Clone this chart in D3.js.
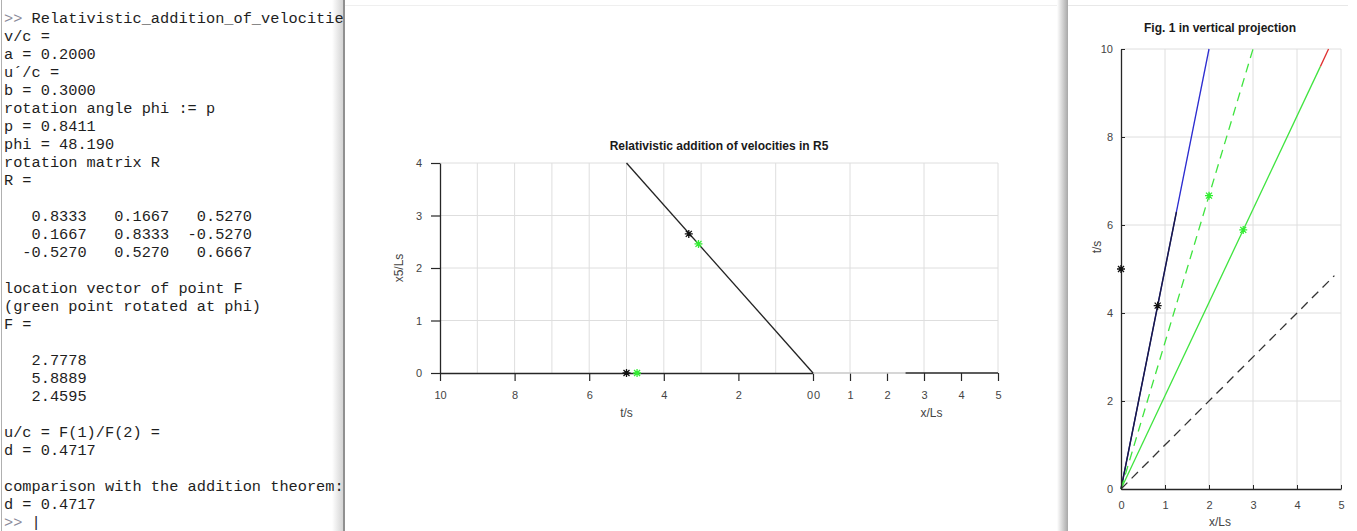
<!DOCTYPE html>
<html>
<head>
<meta charset="utf-8">
<script src="https://cdn.jsdelivr.net/npm/d3@7"></script>
<style>
  body { margin: 0; background: #fff; }
  svg { display: block; }
</style>
</head>
<body>
<svg id="chart" width="1357" height="531"></svg>
<script>
// console output shown on the left
const consoleLines = [
  ">> Relativistic_addition_of_velocitie",
  "v/c =",
  "a = 0.2000",
  "u\u00b4/c =",
  "b = 0.3000",
  "rotation angle phi := p",
  "p = 0.8411",
  "phi = 48.190",
  "rotation matrix R",
  "R =",
  "",
  "   0.8333   0.1667   0.5270",
  "   0.1667   0.8333  -0.5270",
  "  -0.5270   0.5270   0.6667",
  "",
  "location vector of point F",
  "(green point rotated at phi)",
  "F =",
  "",
  "   2.7778",
  "   5.8889",
  "   2.4595",
  "",
  "u/c = F(1)/F(2) =",
  "d = 0.4717",
  "",
  "comparison with the addition theorem:",
  "d = 0.4717",
  ">> |"
];

// middle plot: Relativistic addition of velocities in R5
const tTicks = [10, 8, 6, 4, 2, 0];
const xTicks = [0, 1, 2, 3, 4, 5];
const r5Ticks = [0, 1, 2, 3, 4];
const tGrid = [9, 8, 7, 6, 5, 4, 3, 1];
const xGrid = [1, 3, 5];
const r5Line = [{ t: 5, y: 4 }, { t: 0, y: 0 }];
const r5BlackStars = [{ t: 5, y: 0 }, { t: 3.33, y: 2.65 }];
const r5GreenStars = [{ t: 4.717, y: 0 }, { t: 3.07, y: 2.4595 }];

// right plot: Fig. 1 in vertical projection
const vTicksX = [0, 1, 2, 3, 4, 5];
const vTicksY = [0, 2, 4, 6, 8, 10];
const blueLine = [{ x: 0, t: 0 }, { x: 2, t: 10 }];
const blackLine = [{ x: 0, t: 0 }, { x: 1.26, t: 6.3 }];
const greenDashed = [{ x: 0, t: 0 }, { x: 3, t: 10 }];
const redLine = [{ x: 4.53, t: 9.6 }, { x: 4.717, t: 10 }];
const greenLine = [{ x: 0, t: 0 }, { x: 4.53, t: 9.6 }];
const lightCone = [{ x: 0, t: 0 }, { x: 4.85, t: 4.85 }];
const vBlackStars = [{ x: 0, t: 5 }, { x: 0.8333, t: 4.1667 }];
const vGreenStars = [{ x: 2, t: 6.6667 }, { x: 2.7778, t: 5.8889 }];

const svg = d3.select("#chart");
const sans = "Liberation Sans, Arial, Helvetica, sans-serif";
const starPath = "M-4,0H4M0,-4V4M-3,-3L3,3M-3,3L3,-3";
const intFmt = d3.format("d");

// ---------- panels ----------
const defs = svg.append("defs");
const g1 = defs.append("linearGradient").attr("id", "edgeL");
g1.append("stop").attr("offset", "0").attr("stop-color", "#fff");
g1.append("stop").attr("offset", "1").attr("stop-color", "#d4d4d4");
const g2 = defs.append("linearGradient").attr("id", "edgeR");
g2.append("stop").attr("offset", "0").attr("stop-color", "#fff");
g2.append("stop").attr("offset", "1").attr("stop-color", "#a8a8a8");

svg.append("line").attr("x1", 1.5).attr("x2", 1.5).attr("y1", 0).attr("y2", 531)
  .attr("stroke", "#b0b0b0");
svg.append("rect").attr("x", 332).attr("y", 0).attr("width", 11).attr("height", 531)
  .attr("fill", "url(#edgeL)");
svg.append("line").attr("x1", 344).attr("x2", 344).attr("y1", 0).attr("y2", 531)
  .attr("stroke", "#909090").attr("stroke-width", 2);
svg.append("line").attr("x1", 345).attr("x2", 1060).attr("y1", 5.5).attr("y2", 5.5)
  .attr("stroke", "#efefef");
svg.append("rect").attr("x", 1057).attr("y", 0).attr("width", 11).attr("height", 531)
  .attr("fill", "url(#edgeR)");
svg.append("line").attr("x1", 1068).attr("x2", 1348).attr("y1", 5.5).attr("y2", 5.5)
  .attr("stroke", "#e8e8e8");

// ---------- console text ----------
const con = svg.append("g")
  .attr("font-family", "Liberation Mono, Courier New, monospace")
  .attr("font-size", 15.3)
  .attr("fill", "#1e1e1e");

consoleLines.forEach((line, i) => {
  const txt = con.append("text")
    .attr("x", 4)
    .attr("y", 18 + i * 18)
    .attr("dy", "0.35em")
    .attr("xml:space", "preserve");
  if (line.startsWith(">>")) {
    txt.append("tspan").attr("fill", "#8a8a9a").text(">>");
    txt.append("tspan").text(line.slice(2));
  } else {
    txt.text(line);
  }
});

// ---------- middle plot ----------
const tScale = d3.scaleLinear().domain([10, 0]).range([440, 813]);
const xScale = d3.scaleLinear().domain([0, 5]).range([813, 998]);
const yMid = d3.scaleLinear().domain([0, 4]).range([373, 163]);

const mid = svg.append("g");

// grid
mid.selectAll(".tg").data(tGrid).enter().append("line")
  .attr("x1", d => tScale(d)).attr("x2", d => tScale(d))
  .attr("y1", yMid(0)).attr("y2", yMid(4))
  .attr("stroke", "#dedede");
mid.selectAll(".xg").data(xGrid).enter().append("line")
  .attr("x1", d => xScale(d)).attr("x2", d => xScale(d))
  .attr("y1", yMid(0)).attr("y2", yMid(4))
  .attr("stroke", "#dedede");
mid.selectAll(".yg").data(r5Ticks.slice(1)).enter().append("line")
  .attr("x1", tScale(10)).attr("x2", xScale(5))
  .attr("y1", d => yMid(d)).attr("y2", d => yMid(d))
  .attr("stroke", "#dedede");

// axes
const tAxis = mid.append("g")
  .attr("transform", `translate(0,${yMid(0)})`)
  .call(d3.axisBottom(tScale).tickValues(tTicks).tickFormat(intFmt)
    .tickSize(8).tickSizeOuter(0).tickPadding(10));
const xAxis = mid.append("g")
  .attr("transform", `translate(0,${yMid(0)})`)
  .call(d3.axisBottom(xScale).tickValues(xTicks).tickFormat(intFmt)
    .tickSize(8).tickSizeOuter(0).tickPadding(10));
xAxis.select(".domain").remove();
mid.append("line")
  .attr("x1", xScale(0)).attr("x2", xScale(2.5))
  .attr("y1", yMid(0)).attr("y2", yMid(0))
  .attr("stroke", "#c8c8c8").attr("stroke-width", 1.3);
mid.append("line")
  .attr("x1", xScale(2.5)).attr("x2", xScale(5))
  .attr("y1", yMid(0)).attr("y2", yMid(0))
  .attr("stroke", "#262626").attr("stroke-width", 1.3);
// the two zero labels sit next to each other ("00")
tAxis.selectAll(".tick text").filter(d => d === 0).attr("dx", -3.5);
xAxis.selectAll(".tick text").filter(d => d === 0).attr("dx", 3.5);
xAxis.selectAll(".tick").filter(d => d === 0).select("line").remove();

const yAxisMid = mid.append("g")
  .attr("transform", `translate(${tScale(10)},0)`)
  .call(d3.axisLeft(yMid).tickValues(r5Ticks).tickFormat(intFmt)
    .tickSize(9).tickSizeOuter(0).tickPadding(9));

[tAxis, xAxis, yAxisMid].forEach(a => {
  a.selectAll("text").attr("font-family", sans).attr("font-size", 11).attr("fill", "#444");
  a.selectAll("line").attr("stroke", "#262626").attr("stroke-width", 1.2);
  a.select(".domain").attr("stroke", "#262626").attr("stroke-width", 1.3);
});

mid.append("path")
  .datum(r5Line)
  .attr("d", d3.line().x(d => tScale(d.t)).y(d => yMid(d.y)))
  .attr("fill", "none").attr("stroke", "#222").attr("stroke-width", 1.3);

mid.selectAll(".bs").data(r5BlackStars).enter().append("path")
  .attr("d", starPath)
  .attr("transform", d => `translate(${tScale(d.t)},${yMid(d.y)})`)
  .attr("stroke", "#111").attr("stroke-width", 1.3).attr("fill", "none");
mid.selectAll(".gs").data(r5GreenStars).enter().append("path")
  .attr("d", starPath)
  .attr("transform", d => `translate(${tScale(d.t)},${yMid(d.y)})`)
  .attr("stroke", "#33ee33").attr("stroke-width", 1.3).attr("fill", "none");

mid.append("text")
  .attr("x", (tScale(10) + xScale(5)) / 2).attr("y", 150)
  .attr("text-anchor", "middle")
  .attr("font-family", sans).attr("font-size", 12).attr("font-weight", "bold")
  .attr("fill", "#1a1a1a")
  .text("Relativistic addition of velocities in R5");
mid.append("text")
  .attr("transform", `translate(403,${yMid(2)}) rotate(-90)`)
  .attr("text-anchor", "middle")
  .attr("font-family", sans).attr("font-size", 12).attr("fill", "#444")
  .text("x5/Ls");
mid.append("text")
  .attr("x", tScale(5)).attr("y", 417)
  .attr("text-anchor", "middle")
  .attr("font-family", sans).attr("font-size", 12).attr("fill", "#444")
  .text("t/s");
mid.append("text")
  .attr("x", xScale(3.2)).attr("y", 417)
  .attr("text-anchor", "middle")
  .attr("font-family", sans).attr("font-size", 12).attr("fill", "#444")
  .text("x/Ls");

// ---------- right plot ----------
const xR = d3.scaleLinear().domain([0, 5]).range([1121, 1341]);
const yR = d3.scaleLinear().domain([0, 10]).range([489, 49]);
const right = svg.append("g");

right.selectAll(".vx").data(vTicksX.slice(1)).enter().append("line")
  .attr("x1", d => xR(d)).attr("x2", d => xR(d))
  .attr("y1", yR(0)).attr("y2", yR(10))
  .attr("stroke", "#dedede");
right.selectAll(".vy").data(vTicksY.slice(1)).enter().append("line")
  .attr("x1", xR(0)).attr("x2", xR(5))
  .attr("y1", d => yR(d)).attr("y2", d => yR(d))
  .attr("stroke", "#dedede");

const line = d3.line().x(d => xR(d.x)).y(d => yR(d.t));
right.append("path").datum(blueLine).attr("d", line)
  .attr("fill", "none").attr("stroke", "#2b2bd0").attr("stroke-width", 1.3);
right.append("path").datum(blackLine).attr("d", line)
  .attr("fill", "none").attr("stroke", "#1a1a40").attr("stroke-width", 1.4);
right.append("path").datum(greenDashed).attr("d", line)
  .attr("fill", "none").attr("stroke", "#3fe43f").attr("stroke-width", 1.3)
  .attr("stroke-dasharray", "9,6");
right.append("path").datum(redLine).attr("d", line)
  .attr("fill", "none").attr("stroke", "#e03030").attr("stroke-width", 1.3);
right.append("path").datum(greenLine).attr("d", line)
  .attr("fill", "none").attr("stroke", "#3fe43f").attr("stroke-width", 1.3);
right.append("path").datum(lightCone).attr("d", line)
  .attr("fill", "none").attr("stroke", "#333").attr("stroke-width", 1.3)
  .attr("stroke-dasharray", "9,6");

const xAxisR = right.append("g")
  .attr("transform", `translate(0,${yR(0)})`)
  .call(d3.axisBottom(xR).tickValues(vTicksX).tickFormat(intFmt)
    .tickSizeInner(-4).tickSizeOuter(0).tickPadding(12));
const yAxisR = right.append("g")
  .attr("transform", `translate(${xR(0)},0)`)
  .call(d3.axisLeft(yR).tickValues(vTicksY).tickFormat(intFmt)
    .tickSizeInner(-4).tickSizeOuter(0).tickPadding(8));
[xAxisR, yAxisR].forEach(a => {
  a.selectAll("text").attr("font-family", sans).attr("font-size", 11).attr("fill", "#444");
  a.selectAll("line").attr("stroke", "#262626");
  a.select(".domain").attr("stroke", "#262626").attr("stroke-width", 1.3);
});

right.selectAll(".vbs").data(vBlackStars).enter().append("path")
  .attr("d", starPath)
  .attr("transform", d => `translate(${xR(d.x)},${yR(d.t)})`)
  .attr("stroke", "#111").attr("stroke-width", 1.3).attr("fill", "none");
right.selectAll(".vgs").data(vGreenStars).enter().append("path")
  .attr("d", starPath)
  .attr("transform", d => `translate(${xR(d.x)},${yR(d.t)})`)
  .attr("stroke", "#33ee33").attr("stroke-width", 1.3).attr("fill", "none");

right.append("text")
  .attr("x", xR(2.25)).attr("y", 32)
  .attr("text-anchor", "middle")
  .attr("font-family", sans).attr("font-size", 12).attr("font-weight", "bold")
  .attr("fill", "#1a1a1a")
  .text("Fig. 1 in vertical projection");
right.append("text")
  .attr("x", xR(2.25)).attr("y", 526)
  .attr("text-anchor", "middle")
  .attr("font-family", sans).attr("font-size", 12).attr("fill", "#444")
  .text("x/Ls");
right.append("text")
  .attr("transform", `translate(1101,${yR(5.5)}) rotate(-90)`)
  .attr("text-anchor", "middle")
  .attr("font-family", sans).attr("font-size", 12).attr("fill", "#444")
  .text("t/s");
</script>
</body>
</html>
